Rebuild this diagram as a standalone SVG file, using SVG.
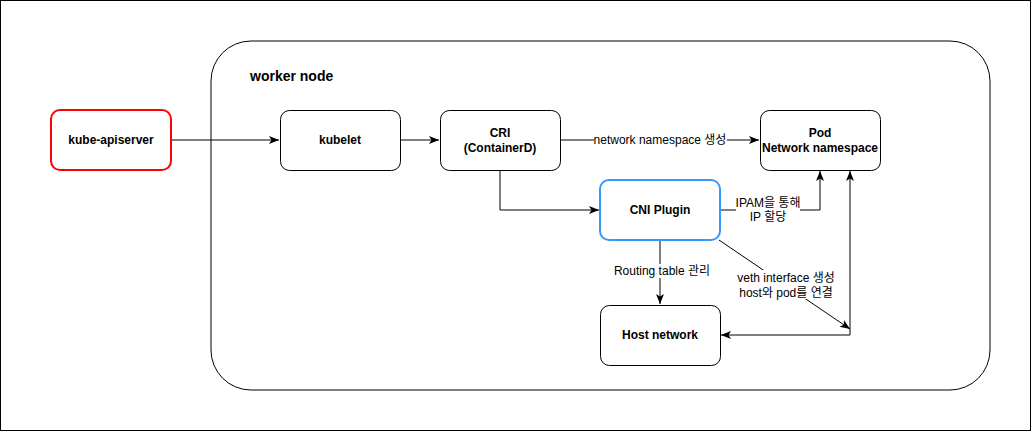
<svg xmlns="http://www.w3.org/2000/svg" width="1031" height="431" viewBox="0 0 1031 431">
<style>
.n{fill:#fff;stroke:#000;stroke-width:1}
.t{font-family:"Liberation Sans","Noto Sans CJK KR",sans-serif;font-size:12px;font-weight:bold;text-anchor:middle;fill:#000}
.l{font-family:"Liberation Sans","Noto Sans CJK KR",sans-serif;font-size:12px;text-anchor:middle;fill:#000}
.e{fill:none;stroke:#000;stroke-width:1}
.bg{fill:#fff}
</style>
<defs>
<marker id="a" viewBox="0 0 10 10" refX="10" refY="5" markerWidth="10" markerHeight="10" markerUnits="userSpaceOnUse" orient="auto">
<path d="M0,1 L10,5 L0,9 L2.5,5 z" fill="#000"/>
</marker>
</defs>
<rect x="0.5" y="0.5" width="1030" height="430" fill="#fff" stroke="#000"/>
<g id="worker-node">
<rect x="211" y="41" width="779" height="349" rx="40" ry="40" class="n"/>
<text x="250" y="81" style="font-family:'Liberation Sans',sans-serif;font-size:14px;font-weight:bold">worker node</text>
</g>
<g id="connectors">
<path class="e" d="M171,140 L279,140" marker-end="url(#a)"/>
<path class="e" d="M400,140 L439,140" marker-end="url(#a)"/>
<path class="e" d="M560,140 L759,140" marker-end="url(#a)"/>
<path class="e" d="M500,170 L500,210 L599,210" marker-end="url(#a)"/>
<path class="e" d="M720,210 L820,210 L820,171" marker-end="url(#a)"/>
<path class="e" d="M660,240 L660,304" marker-end="url(#a)"/>
<path class="e" d="M719,240 L850,329" marker-end="url(#a)"/>
<path class="e" d="M850,335 L721,335" marker-end="url(#a)"/>
<path class="e" d="M850,335 L850,171" marker-end="url(#a)"/>
<rect class="bg" x="594" y="133" width="133" height="14"/>
<text class="l" x="660" y="144">network namespace 생성</text>
<rect class="bg" x="736" y="196" width="64" height="28"/>
<text class="l" x="768" y="207">IPAM을 통해</text>
<text class="l" x="768" y="221">IP 할당</text>
<rect class="bg" x="612" y="264" width="99" height="14"/>
<text class="l" x="662" y="275">Routing table 관리</text>
<rect class="bg" x="735" y="270" width="102" height="29"/>
<text class="l" x="786" y="282">veth interface 생성</text>
<text class="l" x="786" y="297">host와 pod를 연결</text>
</g>
<g id="kube-apiserver">
<rect x="51" y="110" width="120" height="60" rx="9" class="n" style="stroke:#ff0000;stroke-width:2"/>
<text class="t" x="111" y="144">kube-apiserver</text>
</g>
<g id="kubelet">
<rect x="280.5" y="110.5" width="120" height="60" rx="9" class="n"/>
<text class="t" x="340" y="144">kubelet</text>
</g>
<g id="cri">
<rect x="440.5" y="110.5" width="120" height="60" rx="9" class="n"/>
<text class="t" x="500" y="137">CRI</text>
<text class="t" x="500" y="152">(ContainerD)</text>
</g>
<g id="pod">
<rect x="760.5" y="110.5" width="120" height="60" rx="9" class="n"/>
<text class="t" x="820" y="137">Pod</text>
<text class="t" x="820" y="152">Network namespace</text>
</g>
<g id="cni-plugin">
<rect x="600" y="180" width="120" height="60" rx="9" class="n" style="stroke:#3399ff;stroke-width:2"/>
<text class="t" x="660" y="214">CNI Plugin</text>
</g>
<g id="host-network">
<rect x="600.5" y="305.5" width="120" height="60" rx="9" class="n"/>
<text class="t" x="660" y="339">Host network</text>
</g>
</svg>
